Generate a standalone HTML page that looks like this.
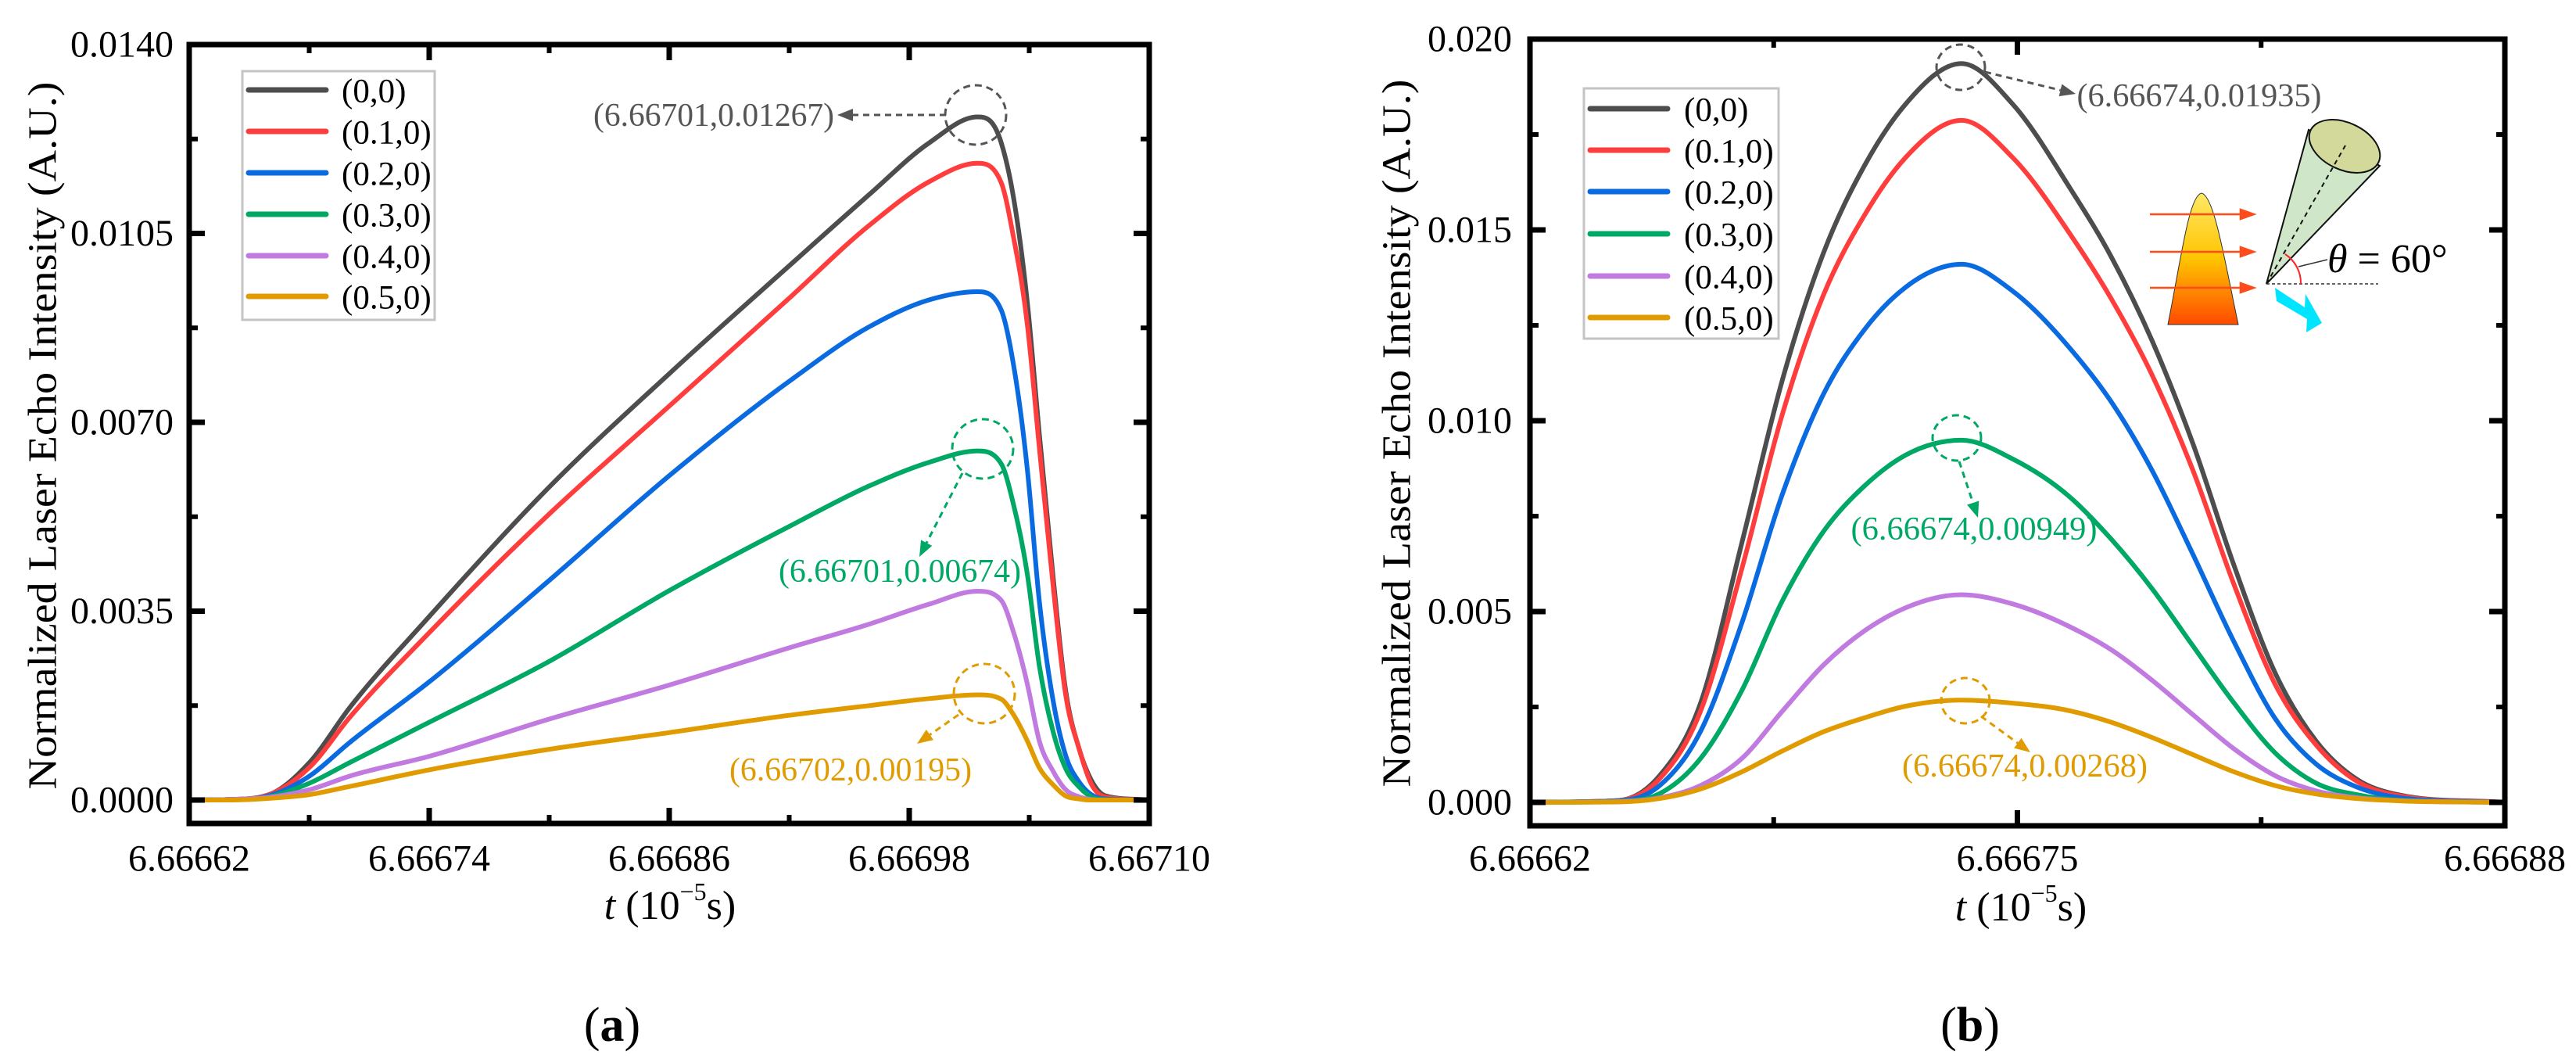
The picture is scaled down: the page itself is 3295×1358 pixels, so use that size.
<!DOCTYPE html>
<html><head><meta charset="utf-8"><style>
html,body{margin:0;padding:0;background:#fff;}
svg{display:block;}
svg, text, tspan{font-family:"Liberation Serif","Times New Roman","DejaVu Serif",serif;}
</style></head><body>
<svg id="fig" width="3295" height="1358" viewBox="0 0 3295 1358" xmlns="http://www.w3.org/2000/svg" font-family="'Liberation Serif', 'Times New Roman', 'DejaVu Serif', serif">
<defs>
<linearGradient id="flameGrad" x1="0" y1="0" x2="0" y2="1">
<stop offset="0" stop-color="#ffe866"/><stop offset="0.5" stop-color="#ffc400"/><stop offset="1" stop-color="#ff4a00"/>
</linearGradient>
</defs>
<g id="panelA"></g>
<g id="panelB"></g>
<g id="inset">
  <path d="M2773,415 C2790,330 2800,250 2816,247 C2832,250 2845,330 2863,415 Z" fill="url(#flameGrad)" stroke="#333" stroke-width="1"/>
  <g stroke="#ff4a1a" stroke-width="2.5" fill="#ff4a1a">
    <line x1="2750" y1="274" x2="2870" y2="274"/><polygon points="2883,274 2866,268 2866,280"/>
    <line x1="2750" y1="322" x2="2870" y2="322"/><polygon points="2883,322 2866,316 2866,328"/>
    <line x1="2750" y1="368" x2="2870" y2="368"/><polygon points="2883,368 2866,362 2866,374"/>
  </g>
  <polygon points="2899,363 2953,166 3044,212" fill="#cfe7c8" stroke="#111" stroke-width="2"/>
  <ellipse cx="2999" cy="187" rx="48" ry="30" transform="rotate(25 2999 187)" fill="#d2d99a" stroke="#111" stroke-width="2"/>
  <line x1="2899" y1="363" x2="3000" y2="186" stroke="#111" stroke-width="2" stroke-dasharray="6,5"/>
  <line x1="2899" y1="363" x2="3042" y2="363" stroke="#333" stroke-width="1.5" stroke-dasharray="4,3"/>
  <path d="M2923,325 A44,44 0 0 1 2943,363" fill="none" stroke="#ff2020" stroke-width="2"/>
  <line x1="2940" y1="341" x2="2977" y2="332" stroke="#333" stroke-width="1.5"/>
  <text x="2977" y="348" font-size="52"><tspan font-style="italic">θ</tspan> = 60°</text>
  <polygon points="2910,368 2948,393 2949,376 2970,413 2950,425 2951,408 2912,385" fill="#00e5ff"/>
</g>
</svg>
<script>
// ---------- Panel (a) data ----------
const timesA = [6.66662,6.66664,6.66666,6.66668,6.66670,6.66674,6.66680,6.66686,6.66692,6.66696,6.66699,6.667014,6.667026,6.667032,6.667039,6.667045,6.667052,6.667058,6.667065,6.667071,6.667078,6.66710];
const seriesA00 = [0,0.00001,0.0001,0.00069,0.0017,0.0034,0.0058,0.0079,0.0099,0.01122,0.01218,0.01266,0.01218,0.0112,0.00924,0.0068,0.00411,0.00208,0.00094,0.00037,0.00008,0];
const seriesA01 = [0,0.00001,0.0001,0.0006,0.00152,0.0031,0.0053,0.0073,0.0093,0.01065,0.01146,0.0118,0.01144,0.01046,0.00883,0.00655,0.00395,0.002,0.00094,0.0003,0.00006,0];
const seriesA02 = [0,0.00001,0.00008,0.00044,0.00106,0.00219,0.00407,0.00601,0.00776,0.00877,0.00927,0.00942,0.00908,0.0081,0.00615,0.0037,0.00183,0.00085,0.00033,0.0001,0.00002,0];
const seriesA03 = [0,0.00001,0.00006,0.00031,0.00069,0.00144,0.00257,0.00388,0.00507,0.00582,0.00626,0.00647,0.00623,0.0055,0.0042,0.0025,0.00126,0.0006,0.00024,0.00006,0.00001,0];
const seriesA04 = [0,0.00001,0.00005,0.00019,0.00044,0.00081,0.0015,0.00213,0.00282,0.00326,0.00363,0.00387,0.0037,0.00313,0.00216,0.0011,0.00053,0.0002,0.00006,0.00001,0,0];
const seriesA05 = [0,0,0.00003,0.0001,0.00025,0.00056,0.00094,0.00125,0.00157,0.00175,0.00188,0.00195,0.00187,0.00159,0.0011,0.0006,0.00028,0.00008,0.00002,0,0,0];
const xTicksA = [6.66662,6.66674,6.66686,6.66698,6.66710];
const xTickLabelsA = ["6.66662","6.66674","6.66686","6.66698","6.66710"];
const yTicksA = [0,0.0035,0.007,0.0105,0.014];
const yTickLabelsA = ["0.0000","0.0035","0.0070","0.0105","0.0140"];

// ---------- Panel (b) data ----------
const timesB = [6.66662,6.6666436,6.6666546,6.6666655,6.6666765,6.6666874,6.6666983,6.6667093,6.6667202,6.6667351,6.6667487,6.666764,6.666775,6.6667859,6.6667968,6.6668078,6.6668187,6.6668297,6.6668406,6.6668515,6.66688];
const seriesB00 = [0,0.00005,0.0007,0.0026,0.0068,0.0111,0.0144,0.0167,0.0183,0.01936,0.0183,0.0161,0.0143,0.0121,0.0094,0.0062,0.0034,0.0016,0.0006,0.0002,0];
const seriesB01 = [0,0.00005,0.00062,0.00239,0.00612,0.0102,0.0133,0.0154,0.0169,0.01787,0.0169,0.0149,0.0132,0.0112,0.0087,0.0057,0.0031,0.0015,0.00055,0.00018,0];
const seriesB02 = [0,0.00004,0.00044,0.00186,0.0047,0.0081,0.0107,0.0124,0.0135,0.0141,0.0134,0.0119,0.0105,0.0087,0.0065,0.0042,0.0022,0.001,0.0004,0.00013,0];
const seriesB03 = [0,0.00003,0.00023,0.00115,0.00293,0.0053,0.0071,0.0083,0.0091,0.00949,0.0090,0.0080,0.0069,0.0056,0.0041,0.0026,0.0013,0.0005,0.0002,0.00006,0];
const seriesB04 = [0,0.00002,0.00012,0.00044,0.00115,0.0024,0.0036,0.0045,0.0051,0.00544,0.0052,0.0046,0.0040,0.0032,0.0023,0.0014,0.0007,0.0003,0.00012,0.00005,0];
const seriesB05 = [0,0.00001,0.0001,0.00035,0.0008,0.00135,0.00185,0.00222,0.00252,0.00268,0.0026,0.0024,0.0021,0.0017,0.00125,0.0008,0.00044,0.00022,0.0001,0.00004,0];
const xTicksB = [6.66662,6.66675,6.66688];
const xTickLabelsB = ["6.66662","6.66675","6.66688"];
const yTicksB = [0,0.005,0.01,0.015,0.02];
const yTickLabelsB = ["0.000","0.005","0.010","0.015","0.020"];

const seriesNames = ["(0,0)","(0.1,0)","(0.2,0)","(0.3,0)","(0.4,0)","(0.5,0)"];
const colors = ["#4d4d4d","#ff3d3d","#0a6be0","#00a865","#c07ae0","#e09b00"];
const NS = "http://www.w3.org/2000/svg";
const FF = "'Liberation Serif', 'Times New Roman', 'DejaVu Serif', serif";

function mk(tag, attrs, parent, txt){
  const e = document.createElementNS(NS, tag);
  for (const k in attrs) e.setAttribute(k, attrs[k]);
  if (tag === "text") e.setAttribute("font-family", FF);
  if (txt !== undefined) e.textContent = txt;
  parent.appendChild(e);
  return e;
}

function smoothPath(pts){
  const n = pts.length; const dx=[],m=[],t=[];
  for(let i=0;i<n-1;i++){dx[i]=pts[i+1][0]-pts[i][0];m[i]=(pts[i+1][1]-pts[i][1])/dx[i];}
  t[0]=m[0]; t[n-1]=m[n-2];
  for(let i=1;i<n-1;i++){
    if(m[i-1]*m[i]<=0){t[i]=0;continue;}
    let s=(m[i-1]*dx[i]+m[i]*dx[i-1])/(dx[i-1]+dx[i]);
    const lim=3*Math.min(Math.abs(m[i-1]),Math.abs(m[i]));
    if(Math.abs(s)>lim) s=Math.sign(s)*lim;
    t[i]=s;
  }
  let d="M"+pts[0][0].toFixed(1)+","+pts[0][1].toFixed(1);
  for(let i=0;i<n-1;i++){
    const h=dx[i]/3;
    d+=" C"+(pts[i][0]+h).toFixed(1)+","+(pts[i][1]+t[i]*h).toFixed(1)+" "+(pts[i+1][0]-h).toFixed(1)+","+(pts[i+1][1]-t[i+1]*h).toFixed(1)+" "+pts[i+1][0].toFixed(1)+","+pts[i+1][1].toFixed(1);
  }
  return d;
}

function drawPanel(g, cfg){
  const L=cfg.L,R=cfg.R,T=cfg.T,B=cfg.B;
  const xS = v => L + (v-cfg.xmin)/(cfg.xmax-cfg.xmin)*(R-L);
  const yS = v => cfg.y0 - v/cfg.ytop*(cfg.y0-T);
  cfg.series.forEach((vals,si)=>{
    const pts = cfg.times.map((tt,i)=>[xS(tt), yS(vals[i])]);
    const p = mk("path",{d:smoothPath(pts),fill:"none",stroke:colors[si],"stroke-width":6,"stroke-linejoin":"round"},g);
    
    
  });
  const fr = mk("rect",{x:L,y:T,width:R-L,height:B-T,fill:"none",stroke:"#000","stroke-width":7},g);
  
  
  cfg.xTicks.forEach((v,i)=>{
    const x=xS(v);
    mk("line",{x1:x,y1:B,x2:x,y2:B-20,stroke:"#000","stroke-width":7},g);
    mk("line",{x1:x,y1:T,x2:x,y2:T+20,stroke:"#000","stroke-width":7},g);
    const tl = mk("text",{x:x,y:cfg.xLabY,"font-size":48,"text-anchor":"middle","dominant-baseline":"central"},g,cfg.xTickLabels[i]);
    
    
    if(i<cfg.xTicks.length-1){
      const xm=xS((v+cfg.xTicks[i+1])/2);
      mk("line",{x1:xm,y1:B,x2:xm,y2:B-11,stroke:"#000","stroke-width":6},g);
      mk("line",{x1:xm,y1:T,x2:xm,y2:T+11,stroke:"#000","stroke-width":6},g);
    }
  });
  cfg.yTicks.forEach((v,i)=>{
    const y=yS(v);
    mk("line",{x1:L,y1:y,x2:L+20,y2:y,stroke:"#000","stroke-width":7},g);
    mk("line",{x1:R,y1:y,x2:R-20,y2:y,stroke:"#000","stroke-width":7},g);
    const tl = mk("text",{x:cfg.yLabX,y:y,"font-size":48,"text-anchor":"end","dominant-baseline":"central"},g,cfg.yTickLabels[i]);
    
    
    if(i<cfg.yTicks.length-1){
      const ym=yS((v+cfg.yTicks[i+1])/2);
      mk("line",{x1:L,y1:ym,x2:L+11,y2:ym,stroke:"#000","stroke-width":6},g);
      mk("line",{x1:R,y1:ym,x2:R-11,y2:ym,stroke:"#000","stroke-width":6},g);
    }
  });
  const yt = mk("text",{x:cfg.yTitleX,y:cfg.yTitleY,"font-size":52,"text-anchor":"middle","dominant-baseline":"central",transform:"rotate(-90 "+cfg.yTitleX+" "+cfg.yTitleY+")",textLength:905,lengthAdjust:"spacingAndGlyphs"},g,"Normalized Laser Echo Intensity (A.U.)");
  
  
  const xt = mk("text",{x:cfg.xTitleX,y:cfg.xTitleY,"font-size":52,"text-anchor":"middle","dominant-baseline":"central"},g);
  
  
  mk("tspan",{"font-style":"italic"},xt,"t");
  mk("tspan",{},xt," (10");
  mk("tspan",{"font-size":32,dy:-18},xt,"−5");
  mk("tspan",{dy:18},xt,"s)");
  const lg = mk("g",{},g);
  
  
  mk("rect",{x:cfg.leg.x,y:cfg.leg.y,width:cfg.leg.w,height:cfg.leg.h,fill:"#fff",stroke:"#c4c4c4","stroke-width":3},lg);
  seriesNames.forEach((nm,i)=>{
    const y=cfg.leg.rows[i];
    const e = mk("g",{},lg);
    
    
    mk("line",{x1:cfg.leg.lx1,y1:y,x2:cfg.leg.lx2,y2:y,stroke:colors[i],"stroke-width":7,"stroke-linecap":"round"},e);
    mk("text",{x:cfg.leg.tx,y:y+2,"font-size":43,"dominant-baseline":"central"},e,nm);
  });
  cfg.ann.forEach(a=>{
    const ag = mk("g",{},g);
    
    
    mk("ellipse",{cx:a.cx,cy:a.cy,rx:a.rx,ry:a.ry,fill:"none",stroke:a.c,"stroke-width":3,"stroke-dasharray":"9,6"},ag);
    const ang=Math.atan2(a.y2-a.y1,a.x2-a.x1), hl=20, hw=8;
    const bx=a.x2-hl*Math.cos(ang), by=a.y2-hl*Math.sin(ang);
    mk("line",{x1:a.x1,y1:a.y1,x2:bx,y2:by,stroke:a.c,"stroke-width":3,"stroke-dasharray":"8,6"},ag);
    mk("polygon",{points:a.x2+","+a.y2+" "+(bx-hw*Math.sin(ang))+","+(by+hw*Math.cos(ang))+" "+(bx+hw*Math.sin(ang))+","+(by-hw*Math.cos(ang)),fill:a.c},ag);
    mk("text",{x:a.tx,y:a.ty,"font-size":42,"text-anchor":"middle","dominant-baseline":"central",fill:a.c,textLength:a.tw,lengthAdjust:"spacingAndGlyphs"},ag,a.t);
  });
  const cap = mk("text",{x:cfg.capX,y:1311,"font-size":62,"text-anchor":"middle","dominant-baseline":"central"},g);
  
  
  mk("tspan",{},cap,"(");
  mk("tspan",{"font-weight":"bold"},cap,cfg.capL);
  mk("tspan",{},cap,")");
}

drawPanel(document.getElementById("panelA"),{
  L:242,R:1470,T:57,B:1053,xmin:6.66662,xmax:6.66710,y0:1023,ytop:0.014,
  times:timesA,series:[seriesA00,seriesA01,seriesA02,seriesA03,seriesA04,seriesA05],
  xTicks:xTicksA,xTickLabels:xTickLabelsA,yTicks:yTicksA,yTickLabels:yTickLabelsA,
  xLabY:1098,yLabX:222,yTitleX:55,yTitleY:557,xTitleX:857,xTitleY:1158,capX:783,capL:"a",
  leg:{x:310,y:91,w:246,h:318,rows:[115,168,221,274,327,379],lx1:318,lx2:417,tx:437},
  ann:[
    {c:"#555",cx:1248,cy:147,rx:39,ry:38,x1:1210,y1:147,x2:1071,y2:147,t:"(6.66701,0.01267)",tx:913,ty:148,tw:308},
    {c:"#00a865",cx:1257,cy:574,rx:39,ry:38,x1:1231,y1:605,x2:1176,y2:712,t:"(6.66701,0.00674)",tx:1151,ty:731,tw:310},
    {c:"#e09b00",cx:1259,cy:887,rx:39,ry:38,x1:1226,y1:914,x2:1173,y2:951,t:"(6.66702,0.00195)",tx:1088,ty:985,tw:310}
  ]
});
drawPanel(document.getElementById("panelB"),{
  L:1957,R:3204,T:50,B:1056,xmin:6.66662,xmax:6.66688,y0:1026,ytop:0.02,
  times:timesB,series:[seriesB00,seriesB01,seriesB02,seriesB03,seriesB04,seriesB05],
  xTicks:xTicksB,xTickLabels:xTickLabelsB,yTicks:yTicksB,yTickLabels:yTickLabelsB,
  xLabY:1098,yLabX:1934,yTitleX:1787,yTitleY:554,xTitleX:2585,xTitleY:1160,capX:2520,capL:"b",
  leg:{x:2026,y:113,w:249,h:320,rows:[139,192,245,299,353,406],lx1:2034,lx2:2133,tx:2154},
  ann:[
    {c:"#555",cx:2508,cy:86,rx:31,ry:29,x1:2539,y1:92,x2:2655,y2:120,t:"(6.66674,0.01935)",tx:2813,ty:123,tw:313},
    {c:"#00a865",cx:2503,cy:560,rx:31,ry:29,x1:2506,y1:590,x2:2530,y2:662,t:"(6.66674,0.00949)",tx:2525,ty:677,tw:315},
    {c:"#e09b00",cx:2514,cy:896,rx:31,ry:29,x1:2534,y1:916,x2:2597,y2:962,t:"(6.66674,0.00268)",tx:2590,ty:980,tw:314}
  ]
});
</script>
</body></html>
